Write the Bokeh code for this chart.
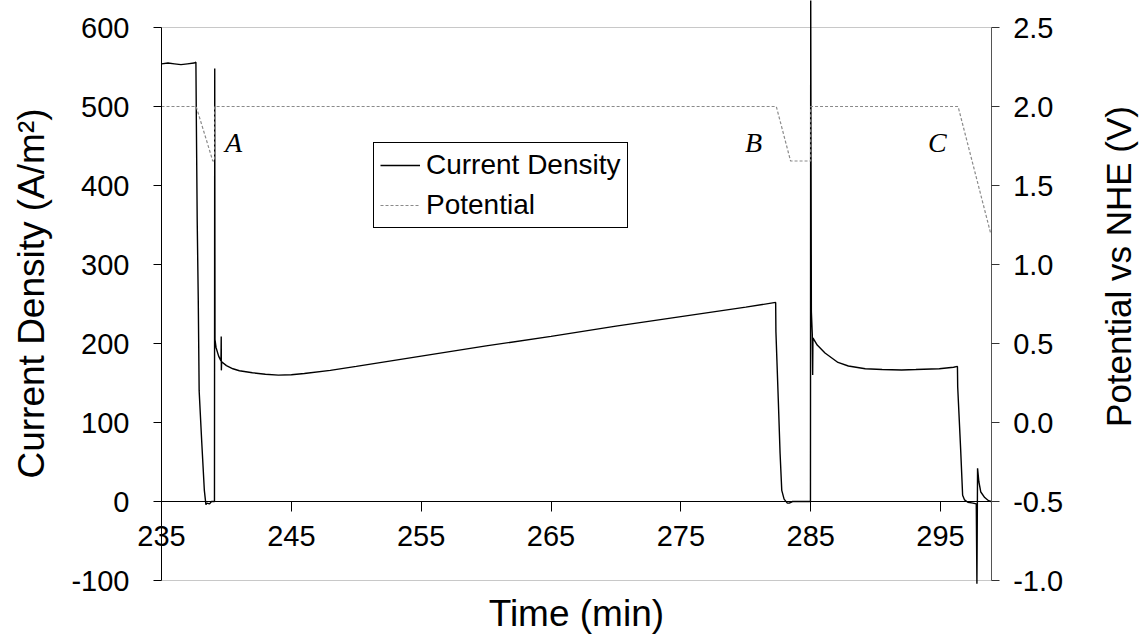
import math
from bokeh.plotting import figure
from bokeh.models import (Range1d, LinearAxis, FixedTicker, Legend, LegendItem,
                          PrintfTickFormatter)
from bokeh.core.properties import value
from bokeh.embed import file_html
from bokeh.resources import INLINE

# ---------------- data ----------------
time_current = [
    235.0, 235.5, 236.0, 236.5, 237.0, 237.5, 237.65,
    237.68, 237.75, 237.83, 237.9, 238.1, 238.3, 238.42, 238.5, 238.7, 238.85, 239.08,
    239.1, 239.12, 239.2, 239.4, 239.58, 239.6, 239.61, 239.63,
    240.0, 240.5, 241.0, 242.0, 243.0, 244.0, 245.0, 246.0, 248.0, 250.0,
    255.0, 260.0, 265.0, 270.0, 275.0, 280.0, 282.3,
    282.32, 282.5, 282.64, 282.77, 282.95, 283.2, 283.35, 283.6, 284.98,
    285.0, 285.05, 285.12, 285.15, 285.17, 285.5, 286.1, 287.1, 287.9, 289.2,
    290.5, 292.0, 293.1, 294.9, 296.0, 296.3,
    296.32, 296.55, 296.7, 296.85, 297.1, 297.5, 297.75,
    297.8, 297.85, 297.95, 298.1, 298.4, 298.7, 298.9,
]
current_density = [
    554, 555, 554, 553, 554, 555, 556,
    490, 355, 257, 140, 75, 14, -4, -2, -3, 0, 0,
    548, 205, 195, 184, 178, 209, 166, 177,
    172, 168, 165.5, 163, 161, 160, 160.5, 162, 166, 171,
    184, 197, 209, 222, 234, 246, 252,
    215, 130, 61, 14, 3, -2, -2, 0, 0,
    640, 240, 212, 160, 207, 198, 188, 176, 171.5, 168,
    167, 166.5, 167, 168, 170, 171,
    145, 65, 8, 2, -1, -2, -3,
    -104, 42, 25, 12, 5, 1, 0,
]

time_potential = [235.0, 237.67, 238.95, 239.1, 239.1, 282.35, 283.45, 285.0, 285.0, 296.35, 298.85]
potential = [2.0, 2.0, 1.655, 1.655, 2.0, 2.0, 1.655, 1.655, 2.0, 2.0, 1.2]

x_ticks = [235, 245, 255, 265, 275, 285, 295]
left_ticks = [-100, 0, 100, 200, 300, 400, 500, 600]
right_ticks = [-1.0, -0.5, 0.0, 0.5, 1.0, 1.5, 2.0, 2.5]

x_min, x_max = 235.0, 298.9
cd_min, cd_max = -100.0, 600.0
pot_min, pot_max = -1.0, 2.5

annot_text = ["A", "B", "C"]
annot_x = [240.55, 280.6, 294.75]
annot_y = [455, 455, 455]

FONT = "Liberation Sans"

# canvas / frame geometry (pixels)
W, H = 1140, 636
FL, FR, FT, FB = 161.0, 990.7, 27.0, 580.0
xs = (FR - FL) / (x_max - x_min)          # px per minute
ys = (FB - FT) / (cd_max - cd_min)        # px per unit current
xr0 = x_min - FL / xs
xr1 = x_min + (W - FL) / xs
yr1 = cd_max + FT / ys
yr0 = cd_max - (H - FT) / ys
k = (pot_max - pot_min) / (cd_max - cd_min)
pr0 = pot_min + (yr0 - cd_min) * k
pr1 = pot_min + (yr1 - cd_min) * k

p = figure(width=W, height=H, output_backend="svg", toolbar_location=None,
           x_range=Range1d(xr0, xr1), y_range=Range1d(yr0, yr1),
           min_border=0, x_axis_type=None, y_axis_type=None)
p.extra_y_ranges = {"pot": Range1d(pr0, pr1)}
p.grid.visible = False
p.outline_line_color = None

# frame top / bottom light lines
p.segment(x0=[x_min, x_min], x1=[x_max, x_max], y0=[cd_max, cd_min], y1=[cd_max, cd_min],
          line_color="#c8c8c8", line_width=1)

# x axis crossing at zero
xa = LinearAxis(fixed_location=0, bounds=(x_min, x_max), ticker=FixedTicker(ticks=x_ticks),
                formatter=PrintfTickFormatter(format="%d"))
xa.major_tick_in = 0
xa.major_tick_out = 10
xa.minor_tick_line_color = None
xa.major_label_text_font = FONT
xa.major_label_text_font_size = "29px"
xa.major_label_text_color = "black"
xa.major_label_standoff = 14
xa.axis_line_color = "black"
xa.major_tick_line_color = "black"
p.add_layout(xa, "below")

# left axis
ya = LinearAxis(fixed_location=x_min, bounds=(cd_min, cd_max),
                ticker=FixedTicker(ticks=left_ticks), formatter=PrintfTickFormatter(format="%d"))
ya.major_tick_in = 0
ya.major_tick_out = 8
ya.minor_tick_line_color = None
ya.major_label_text_font = FONT
ya.major_label_text_font_size = "29px"
ya.major_label_text_color = "black"
ya.major_label_standoff = 24
ya.axis_line_color = "black"
ya.major_tick_line_color = "black"
p.add_layout(ya, "left")

# right axis
ra = LinearAxis(y_range_name="pot", fixed_location=x_max, bounds=(pot_min, pot_max),
                ticker=FixedTicker(ticks=right_ticks), formatter=PrintfTickFormatter(format="%.1f"))
ra.major_tick_in = 0
ra.major_tick_out = 8
ra.minor_tick_line_color = None
ra.major_label_text_font = FONT
ra.major_label_text_font_size = "29px"
ra.major_label_text_color = "black"
ra.major_label_standoff = 14
ra.axis_line_color = "#555555"
ra.major_tick_line_color = "#333333"
p.add_layout(ra, "right")

# series
r_cur = p.line(time_current, current_density, line_color="black", line_width=1.4)
r_pot = p.line(time_potential, potential, y_range_name="pot", line_color="#8a8a8a",
               line_width=1.2, line_dash="3 2")

# A, B, C annotations
p.text(x=annot_x, y=annot_y, text=annot_text, text_font=value("Liberation Serif"),
       text_font_style="italic", text_font_size="28px", text_align="center",
       text_baseline="middle", text_color="black")

# axis titles (drawn as text in data space)
p.text(x=[x_min + (31 - FL) / xs], y=[cd_max - (293 - FT) / ys], text=["Current Density (A/m²)"],
       angle=math.pi / 2, text_font=value(FONT), text_font_size="37px",
       text_align="center", text_baseline="middle", text_color="black")
p.text(x=[x_min + (1118 - FL) / xs], y=[cd_max - (266 - FT) / ys], text=["Potential vs NHE (V)"],
       angle=math.pi / 2, text_font=value(FONT), text_font_size="35px",
       text_align="center", text_baseline="middle", text_color="black")
p.text(x=[(x_min + x_max) / 2], y=[cd_max - (613 - FT) / ys], text=["Time (min)"],
       text_font=value(FONT), text_font_size="37px",
       text_align="center", text_baseline="middle", text_color="black")

legend = Legend(items=[LegendItem(label="Current Density", renderers=[r_cur]),
                       LegendItem(label="Potential", renderers=[r_pot])],
                location=(373, 408), label_text_font=FONT, label_text_font_size="28px",
                label_text_color="black",
                glyph_width=40, glyph_height=20, label_standoff=6, padding=6,
                spacing=8, margin=0, border_line_color="black", border_line_width=1,
                border_line_alpha=1.0, background_fill_alpha=1.0)
p.add_layout(legend)

open("out.html", "w").write(file_html(p, INLINE))
